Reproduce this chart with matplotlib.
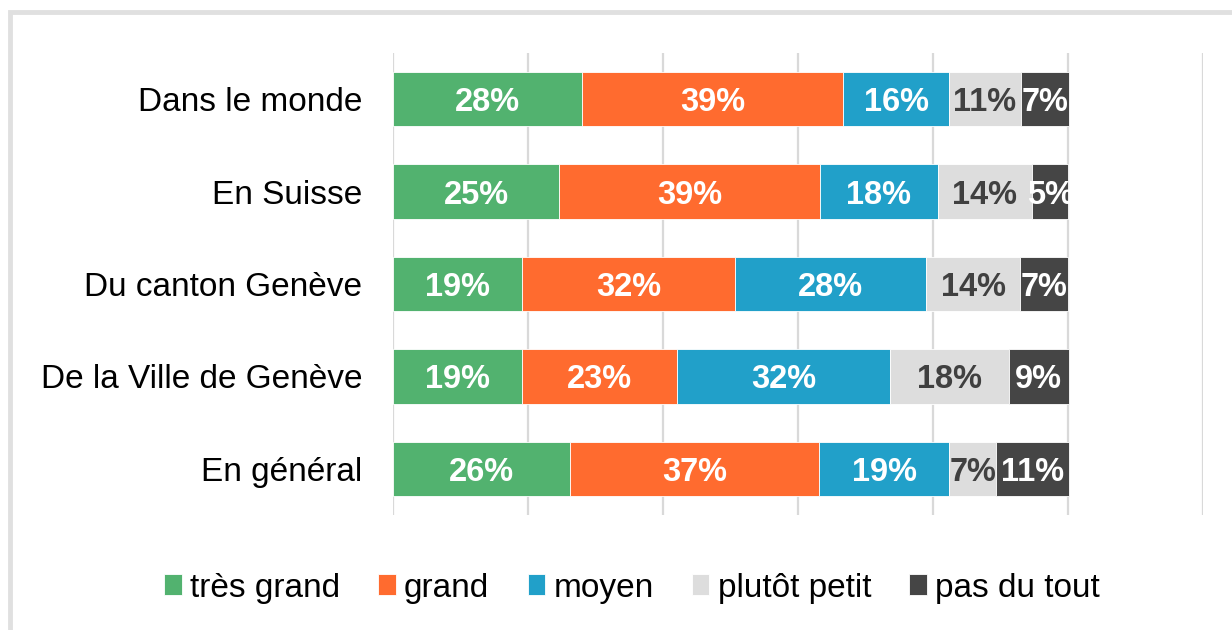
import matplotlib
matplotlib.use("Agg")
import matplotlib.pyplot as plt
import matplotlib.patches as patches
import numpy as np

plt.rcParams["font.family"] = ["Liberation Sans", "DejaVu Sans"]

# categories top to bottom
categories = ["Dans le monde", "En Suisse", "Du canton Genève",
              "De la Ville de Genève", "En général"]
series = ["très grand", "grand", "moyen", "plutôt petit", "pas du tout"]

tres_grand = [28.0, 24.6, 19.1, 19.1, 26.2]
grand = [38.7, 38.6, 31.6, 23.0, 36.9]
moyen = [15.7, 17.5, 28.3, 31.6, 19.3]
plutot_petit = [10.6, 14.0, 13.9, 17.5, 7.0]
pas_du_tout = [7.1, 5.3, 7.1, 8.9, 10.7]

colors = ["#52B26F", "#FF6B2F", "#21A0C9", "#DDDDDD", "#454545"]
label_colors = ["white", "white", "white", "#404040", "white"]

values = [tres_grand, grand, moyen, plutot_petit, pas_du_tout]

fig = plt.figure(figsize=(12.32, 6.3), dpi=100)
ax = fig.add_axes([393 / 1232, 1 - 515 / 630, 810 / 1232, 462 / 630])

y = np.arange(len(categories))
left = np.zeros(len(categories))
handles = []
for name, vals, col, lcol in zip(series, values, colors, label_colors):
    vals = np.array(vals) / 100
    bars = ax.barh(y, vals, left=left, height=0.59, color=col,
                   edgecolor="white", linewidth=0.6, label=name, zorder=3)
    handles.append(bars)
    for yi, l, v in zip(y, left, vals):
        ax.text(l + v / 2, yi, f"{round(v * 100):.0f}%", ha="center",
                va="center_baseline", fontsize=23.5, fontweight="bold",
                color=lcol, zorder=4)
    left += vals

ax.set_xlim(0, 1.2)
ax.set_ylim(len(categories) - 0.5, -0.5)
ax.set_xticks(np.arange(0, 1.21, 0.2))
ax.set_xticklabels([])
ax.set_yticks(y)
ax.set_yticklabels(categories, fontsize=24, color="black")
ax.tick_params(axis="both", length=0, pad=22)
ax.grid(axis="x", color="#D9D9D9", linewidth=1.6, zorder=0)
for s in ax.spines.values():
    s.set_visible(False)

fig.legend(handles=handles, labels=series, loc="center",
           bbox_to_anchor=(0.513, 1 - 588 / 630), ncol=5, frameon=False,
           fontsize=24, handlelength=0.52, handleheight=0.6,
           handletextpad=0.25, columnspacing=1.15)

# light frame around the chart area (top and left visible)
frame = patches.Rectangle((9.5 / 1232, -0.2), 1.3, 0.2 + 1 - 12 / 630,
                          transform=fig.transFigure, fill=False,
                          edgecolor="#E0E0E0", linewidth=3.5)
fig.add_artist(frame)

fig.savefig("out.png", dpi=100, facecolor="white")
